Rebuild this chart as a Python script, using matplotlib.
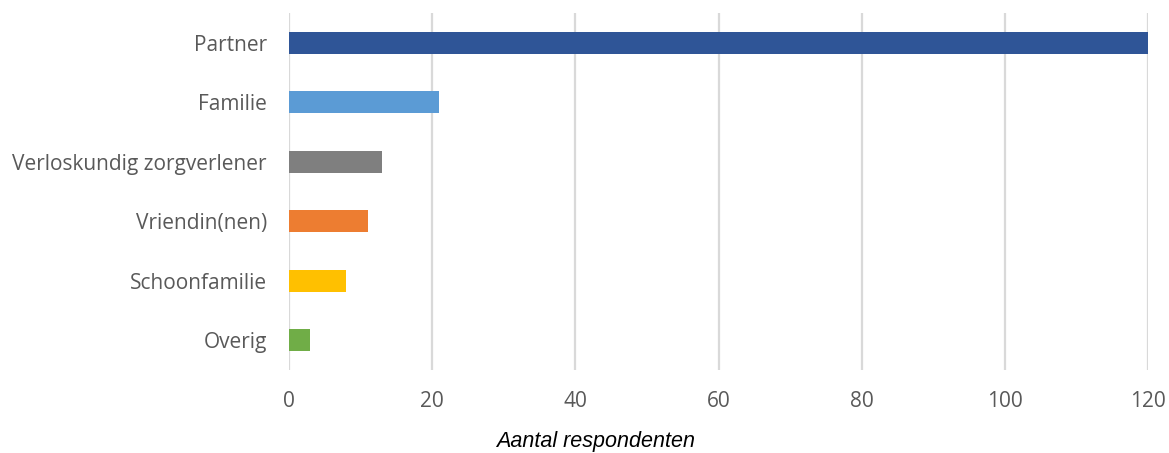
import matplotlib.pyplot as plt

# data
categories = ['Partner', 'Familie', 'Verloskundig zorgverlener',
              'Vriendin(nen)', 'Schoonfamilie', 'Overig']
values = [120, 21, 13, 11, 8, 3]
colors = ['#2F5597', '#5B9BD5', '#7F7F7F', '#ED7D31', '#FFC000', '#70AD47']
xticks = [0, 20, 40, 60, 80, 100, 120]

fig = plt.figure(figsize=(11.69, 4.53), dpi=100)
ax = fig.add_axes([289 / 1169, 83 / 453, 859 / 1169, 357 / 453])

pos = list(range(len(categories)))
ax.barh(pos, values, height=0.37, color=colors, zorder=3, clip_on=False)

ax.set_xlim(0, 120)
ax.set_ylim(len(categories) - 0.5, -0.5)
ax.set_yticks(pos)
ax.set_yticklabels(categories, family='Open Sans', fontsize=15, color='#595959')
ax.set_xticks(xticks)
ax.set_xticklabels([str(t) for t in xticks], family='Open Sans',
                   fontsize=15, color='#595959')
ax.tick_params(axis='both', length=0)
ax.tick_params(axis='x', pad=15)
ax.tick_params(axis='y', pad=16)

ax.grid(axis='x', color='#D9D9D9', linewidth=1.6, zorder=0)
for s in ax.spines.values():
    s.set_visible(False)

fig.text(596 / 1169, 1 - 442 / 453, 'Aantal respondenten', ha='center',
         va='center', family='Liberation Sans', style='italic', fontsize=15.5,
         color='black')

fig.savefig('out.png', dpi=100)
